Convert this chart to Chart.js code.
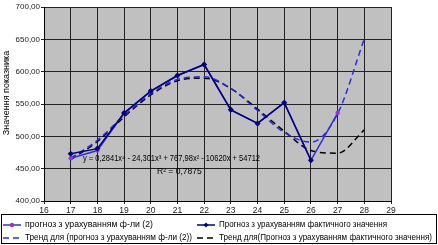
<!DOCTYPE html>
<html>
<head>
<meta charset="utf-8">
<script src="https://cdn.jsdelivr.net/npm/chart.js@4.4.1/dist/chart.umd.min.js"></script>
<style>
  body { margin: 0; background: #fff; }
  canvas { display: block; }
</style>
</head>
<body>
<canvas id="chart" width="438" height="245"></canvas>
<script>
// значення
const formulaX = [17, 18, 19, 20, 21, 22, 23, 24, 25, 26, 27];
const formulaVals = [466, 478, 536, 570, 594, 611, 541, 520, 552, 463, 536];

const factX = [17, 18, 19, 20, 21, 22, 23, 24, 25, 26];
const factVals = [473, 481, 536, 570, 594, 611, 541, 520, 552, 463];

const trendX = [17, 18, 19, 20, 21, 22, 23, 24, 25, 26, 27, 28];
const trendFormulaVals = [466, 494, 532, 566, 588, 592, 574, 540, 506, 491, 535, 651];
const trendFactVals = [464, 492, 530, 564, 586, 590, 574, 542, 508, 478, 474, 510];

const yTicks = [400, 450, 500, 550, 600, 650, 700];

const seriesNames = [
    'прогноз з урахуванням ф-ли (2)',
    'Прогноз з урахуванням фактичного значення',
    'Тренд для (прогноз з урахуванням ф-ли (2))',
    'Тренд для(Прогноз з урахуванням фактичного значення)'
];
const yTitle = 'Значення показника';

function toPoints(xs, ys) {
    return xs.map((x, i) => ({ x: x, y: ys[i] }));
}

const FONT = '"Liberation Sans", Arial, sans-serif';

const plotBg = {
    id: 'plotBg',
    beforeDraw(chart) {
        const { ctx, chartArea: a } = chart;
        ctx.save();
        ctx.fillStyle = '#fff';
        ctx.fillRect(0, 0, chart.width, chart.height);
        ctx.fillStyle = '#c0c0c0';
        ctx.fillRect(a.left, a.top, a.right - a.left, a.bottom - a.top);
        // назва осі Y
        ctx.translate(7, 93);
        ctx.rotate(-Math.PI / 2);
        ctx.fillStyle = '#000';
        ctx.font = '9px ' + FONT;
        ctx.textAlign = 'center';
        ctx.textBaseline = 'middle';
        ctx.fillText(yTitle, 0, 0);
        ctx.restore();
    }
};

const equation = {
    id: 'equation',
    afterDatasetsDraw(chart) {
        const ctx = chart.ctx;
        ctx.save();
        ctx.fillStyle = '#000';
        ctx.font = '8.5px ' + FONT;
        ctx.textBaseline = 'middle';
        ctx.fillText('y = 0,2841x⁴ - 24,301x³ + 767,98x² - 10620x + 54712', 83, 159, 177);
        ctx.fillText('R² = 0,7875', 157, 172);
        ctx.restore();
    }
};

// легенда в рамці знизу
const boxLegend = {
    id: 'boxLegend',
    afterDraw(chart) {
        const ctx = chart.ctx;
        ctx.save();
        ctx.fillStyle = '#fff';
        ctx.fillRect(1, 214, 436, 30);
        ctx.strokeStyle = '#000';
        ctx.lineWidth = 1;
        ctx.strokeRect(1.5, 214.5, 435, 29);

        const items = [
            { x: 3, y: 225, ds: 0, w: 128 },
            { x: 197, y: 225, ds: 1, w: 168 },
            { x: 3, y: 238, ds: 2, w: 167 },
            { x: 197, y: 238, ds: 3, w: 213 }
        ];
        ctx.font = '9px ' + FONT;
        ctx.textBaseline = 'middle';
        items.forEach(it => {
            const d = chart.data.datasets[it.ds];
            ctx.strokeStyle = d.borderColor;
            ctx.lineWidth = d.borderWidth;
            ctx.setLineDash(d.borderDash || []);
            ctx.beginPath();
            ctx.moveTo(it.x, it.y);
            ctx.lineTo(it.x + 18, it.y);
            ctx.stroke();
            ctx.setLineDash([]);
            if (d.pointRadius > 0) {
                ctx.fillStyle = d.pointBackgroundColor;
                ctx.beginPath();
                if (d.pointStyle === 'rectRot') {
                    const cx = it.x + 9, r = 2.5;
                    ctx.moveTo(cx, it.y - r);
                    ctx.lineTo(cx + r, it.y);
                    ctx.lineTo(cx, it.y + r);
                    ctx.lineTo(cx - r, it.y);
                } else {
                    ctx.arc(it.x + 9, it.y, 2.2, 0, Math.PI * 2);
                }
                ctx.fill();
            }
            ctx.fillStyle = '#000';
            ctx.fillText(d.label, it.x + 22, it.y, it.w);
        });
        ctx.restore();
    }
};

new Chart(document.getElementById('chart'), {
    type: 'line',
    data: {
        datasets: [
            {
                label: seriesNames[0],
                data: toPoints(formulaX, formulaVals),
                borderColor: '#3030dd',
                borderWidth: 1.5,
                pointStyle: 'circle',
                pointRadius: 2.2,
                pointBackgroundColor: '#9933cc',
                pointBorderWidth: 0,
                tension: 0,
                order: 2
            },
            {
                label: seriesNames[1],
                data: toPoints(factX, factVals),
                borderColor: '#000080',
                borderWidth: 1.5,
                pointStyle: 'rectRot',
                pointRadius: 3,
                pointBackgroundColor: '#000080',
                pointBorderWidth: 0,
                tension: 0,
                order: 1
            },
            {
                label: seriesNames[2],
                data: toPoints(trendX, trendFormulaVals),
                borderColor: '#2a2aee',
                borderWidth: 1.5,
                borderDash: [6, 4],
                pointRadius: 0,
                cubicInterpolationMode: 'monotone',
                order: 3
            },
            {
                label: seriesNames[3],
                data: toPoints(trendX, trendFactVals),
                borderColor: '#000',
                borderWidth: 1.5,
                borderDash: [6, 4],
                pointRadius: 0,
                cubicInterpolationMode: 'monotone',
                order: 4
            }
        ]
    },
    options: {
        responsive: false,
        animation: false,
        layout: { padding: { top: 7, right: 47, bottom: 30, left: 0 } },
        plugins: {
            legend: { display: false },
            tooltip: { enabled: false }
        },
        scales: {
            x: {
                type: 'linear',
                min: 16,
                max: 29,
                ticks: { stepSize: 1, color: '#222', font: { family: FONT, size: 8.5 }, padding: 2 },
                grid: { color: '#222', lineWidth: 1, tickLength: 3 },
                border: { color: '#000' },
                afterFit(s) { s.height = 14; }
            },
            y: {
                min: 400,
                max: 700,
                afterBuildTicks(s) { s.ticks = yTicks.map(v => ({ value: v })); },
                ticks: {
                    color: '#222',
                    font: { family: FONT, size: 8 },
                    padding: 1,
                    callback: v => v.toFixed(2).replace('.', ',')
                },
                grid: { color: '#222', lineWidth: 1, tickLength: 3 },
                border: { color: '#000' },
                afterFit(s) { s.width = 44; }
            }
        }
    },
    plugins: [plotBg, equation, boxLegend]
});
</script>
</body>
</html>
